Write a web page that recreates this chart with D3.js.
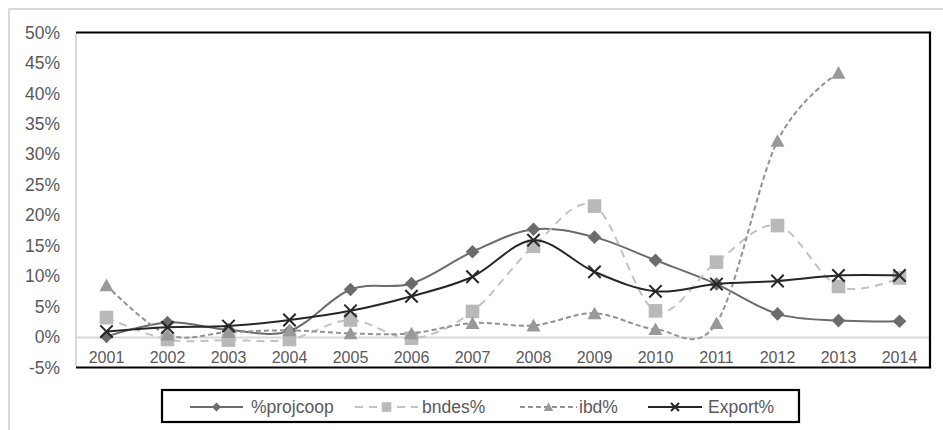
<!DOCTYPE html>
<html>
<head>
<meta charset="utf-8">
<script src="https://cdn.jsdelivr.net/npm/d3@7"></script>
<style>
  html, body { margin: 0; padding: 0; background: #ffffff; }
  svg { display: block; font-family: "Liberation Sans", Arial, sans-serif; }
</style>
</head>
<body>
<svg id="chart" width="943" height="430"></svg>
<script>
// Annual shares, in percent
const years = ["2001","2002","2003","2004","2005","2006","2007","2008","2009","2010","2011","2012","2013","2014"];
const projcoop = [0.1, 2.4, 1.2, 1.0, 7.8, 8.8, 14.0, 17.7, 16.4, 12.6, 8.7, 3.8, 2.7, 2.6];
const bndes    = [3.2, -0.4, -0.5, -0.4, 2.8, -0.2, 4.2, 14.9, 21.5, 4.3, 12.3, 18.3, 8.3, 9.7];
const ibd      = [8.5, 0.4, 0.8, 1.1, 0.6, 0.6, 2.3, 1.9, 3.9, 1.3, 2.3, 32.2, 43.4, null];
const exportPct = [0.9, 1.6, 1.8, 2.8, 4.3, 6.7, 9.9, 15.9, 10.7, 7.5, 8.7, 9.2, 10.1, 10.1];
const yTicks = [-5, 0, 5, 10, 15, 20, 25, 30, 35, 40, 45, 50];

const series = [
  { name: "%projcoop", values: projcoop,  color: "#6b6b6b", mark: "#6b6b6b", dash: null,  shape: "diamond" },
  { name: "bndes%",    values: bndes,     color: "#c2c2c2", mark: "#b9b9b9", dash: "8,6", shape: "square" },
  { name: "ibd%",      values: ibd,       color: "#929292", mark: "#999999", dash: "5,3", shape: "triangle" },
  { name: "Export%",   values: exportPct, color: "#262626", mark: "#262626", dash: null,  shape: "cross" }
];

const svg = d3.select("#chart");
const plot = { left: 76, right: 930, top: 32.5, bottom: 367.5 };
const textColor = "#595959";

// outer chart border
svg.append("rect")
  .attr("x", 9).attr("y", 9).attr("width", 960).attr("height", 460)
  .attr("fill", "none").attr("stroke", "#d9d9d9").attr("stroke-width", 2);

const x = d3.scaleBand().domain(years).range([plot.left, plot.right]);
const y = d3.scaleLinear().domain([-5, 50]).range([plot.bottom, plot.top]);

// y axis labels
const yAxis = svg.append("g")
  .attr("transform", `translate(${plot.left},0)`)
  .call(d3.axisLeft(y).tickValues(yTicks).tickFormat(d => d + "%").tickSize(0).tickPadding(16));
yAxis.select(".domain").remove();
yAxis.selectAll("text")
  .attr("fill", textColor).attr("font-size", 17.5)
  .attr("font-family", "'Liberation Sans', Arial, sans-serif");

// category axis sitting on the zero line
const xAxis = svg.append("g")
  .attr("transform", `translate(0,${y(0)})`)
  .call(d3.axisBottom(x).tickSize(0).tickSizeOuter(0).tickPadding(14.5));
xAxis.select(".domain").attr("stroke", "#d9d9d9").attr("stroke-width", 2);
xAxis.selectAll("text")
  .attr("fill", textColor).attr("font-size", 16)
  .attr("font-family", "'Liberation Sans', Arial, sans-serif");

// plot frame
svg.append("line").attr("x1", plot.left).attr("x2", plot.left).attr("y1", plot.top).attr("y2", plot.bottom)
  .attr("stroke", "#d9d9d9").attr("stroke-width", 2);
svg.append("path")
  .attr("d", `M${plot.left},${plot.top}H${plot.right}V${plot.bottom}H${plot.left}`)
  .attr("fill", "none").attr("stroke", "#000").attr("stroke-width", 2.2);

// marker drawing
function drawMarker(g, shape, s, color) {
  if (shape === "diamond") {
    g.append("path").attr("d", `M0,${-s}L${s},0L0,${s}L${-s},0Z`).attr("fill", color);
  } else if (shape === "square") {
    g.append("rect").attr("x", -s).attr("y", -s).attr("width", 2 * s).attr("height", 2 * s).attr("fill", color);
  } else if (shape === "triangle") {
    g.append("path").attr("d", `M0,${-s * 0.95}L${s},${s * 0.85}L${-s},${s * 0.85}Z`).attr("fill", color);
  } else {
    g.append("path").attr("d", `M${-s},${-s}L${s},${s}M${-s},${s}L${s},${-s}`)
      .attr("stroke", color).attr("stroke-width", 2).attr("fill", "none");
  }
}

const line = d3.line()
  .defined(d => d.v !== null)
  .x(d => x(d.year) + x.bandwidth() / 2)
  .y(d => y(d.v))
  .curve(d3.curveCatmullRom.alpha(0));

const markerSize = { diamond: 6.8, square: 6.8, triangle: 7, cross: 6.2 };

series.forEach(s => {
  const pts = years.map((yr, i) => ({ year: yr, v: s.values[i] }));
  const g = svg.append("g");
  g.append("path")
    .attr("d", line(pts))
    .attr("fill", "none")
    .attr("stroke", s.color)
    .attr("stroke-width", 2)
    .attr("stroke-dasharray", s.dash);
  pts.filter(d => d.v !== null).forEach(d => {
    const m = g.append("g").attr("transform", `translate(${x(d.year) + x.bandwidth() / 2},${y(d.v)})`);
    drawMarker(m, s.shape, markerSize[s.shape], s.mark);
  });
});

// legend
const legend = svg.append("g");
legend.append("rect")
  .attr("x", 162).attr("y", 390).attr("width", 637).attr("height", 32)
  .attr("fill", "#fff").attr("stroke", "#000").attr("stroke-width", 2.2);

const legendItems = [
  { x0: 190, x1: 243, tx: 251 },
  { x0: 355, x1: 418, tx: 422 },
  { x0: 520, x1: 577, tx: 579 },
  { x0: 648, x1: 702, tx: 708 }
];
const legendSize = { diamond: 4.5, square: 4.8, triangle: 4.8, cross: 4 };
series.forEach((s, i) => {
  const it = legendItems[i];
  const ly = 407;
  legend.append("line")
    .attr("x1", it.x0).attr("x2", it.x1).attr("y1", ly).attr("y2", ly)
    .attr("stroke", s.color).attr("stroke-width", 2)
    .attr("stroke-dasharray", s.dash);
  const m = legend.append("g").attr("transform", `translate(${(it.x0 + it.x1) / 2},${ly})`);
  drawMarker(m, s.shape, legendSize[s.shape], s.mark);
  legend.append("text")
    .attr("x", it.tx).attr("y", ly).attr("dy", "0.35em")
    .attr("fill", textColor).attr("font-size", 17.5)
    .text(s.name);
});
</script>
</body>
</html>
